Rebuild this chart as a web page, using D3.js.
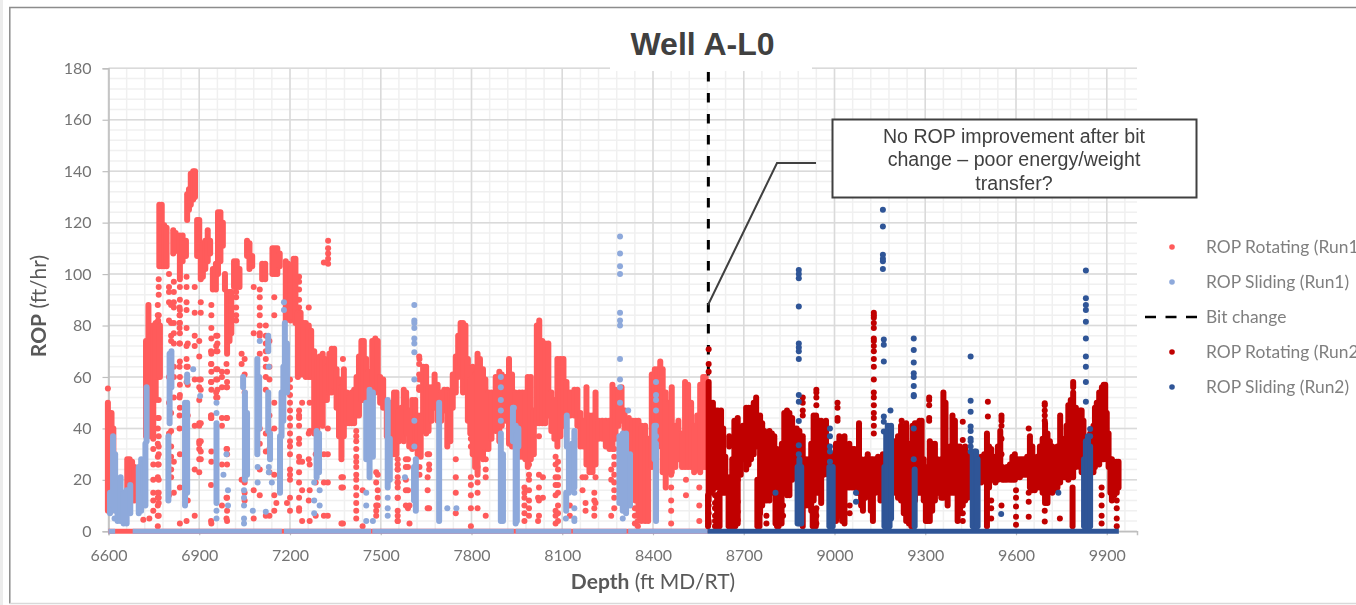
<!DOCTYPE html>
<html><head><meta charset="utf-8">
<script src="https://cdn.jsdelivr.net/npm/d3@7/dist/d3.min.js"></script>
<style>
html,body{margin:0;padding:0;background:#fff;overflow:hidden}
svg{display:block;filter:blur(0.35px)}
text{font-family:Lato,"Open Sans",sans-serif}
</style></head><body>
<svg id="c" width="1356" height="605"></svg>
<script>
// ---- categories / labels
const seriesNames = ["ROP Rotating (Run1)","ROP Sliding (Run1)","Bit change","ROP Rotating (Run2)","ROP Sliding (Run2)"];
const depthTicks = [6600,6900,7200,7500,7800,8100,8400,8700,9000,9300,9600,9900];
const ropTicks = [0,20,40,60,80,100,120,140,160,180];
const bitChangeDepth = 8583;
const noteLines = ["No ROP improvement after bit","change \u2013 poor energy/weight","transfer?"];

// ---- dense runs of readings: [depth, lowest ROP, highest ROP]
const rotRun1Bands = [[6598,8,50],[6604,8,46],[6610,8,46],[6616,10,40],[6662,14,28],[6670,13,28],[6678,12,27],[6686,12,25],[6692,15,24],
[6724,37,74],[6732,37,88],[6740,37,76],[6748,36,80],[6756,51,81],[6764,60,82],[6770,60,80],[6768,103,127],[6776,103,127],[6784,103,119],[6792,103,118],
[6814,108,117],[6822,109,116],[6836,98,115],[6845,105,115],[6856,107,113],[6860,121,131],[6866,125,133],[6872,127,139],[6880,129,140],[6886,130,140],
[6893,107,121],[6900,107,121],[6905,98,109],[6912,99,112],[6920,102,113],[6928,105,117],[6936,108,113],[6945,94,102],[6955,94,104],[6962,100,124],[6970,105,124],[6978,111,120],[6985,94,100],
[6992,69,93],[7000,74,93],[7006,77,93],[7015,95,105],[7024,95,105],[7033,95,102],[7058,107,113],[7066,102,112],[7075,103,107],[7108,98,104],[7118,98,104],
[7142,100,110],[7150,100,110],[7158,100,110],[7166,103,108],[7186,82,105],[7194,83,104],[7202,82,102],[7212,83,106],[7218,81,106],[7226,60,85],[7235,61,85],[7244,61,81],[7252,60,81],[7262,60,80],[7270,60,78],
[7280,38,70],[7290,38,67],[7298,42,68],[7308,41,69],[7316,51,67],[7322,51,64],[7330,54,69],[7338,54,71],[7346,56,71],[7354,48,63],[7362,37,59],[7370,29,56],[7378,37,63],[7388,42,54],[7396,42,52],[7404,42,54],[7412,42,55],[7420,45,60],[7428,45,68],[7436,51,74],[7444,51,74],[7452,54,67],[7460,50,62],[7472,51,74],[7482,54,75],[7490,56,74],[7498,50,60],[7508,48,59],
[7520,37,47],[7528,33,47],[7536,30,50],[7544,30,54],[7552,30,54],[7560,35,47],[7568,37,48],[7576,35,55],[7584,38,54],[7594,33,47],[7604,32,51],[7614,34,51],[7622,30,45],[7632,29,45],[7640,39,64],[7650,38,64],[7658,39,56],[7668,43,56],[7678,48,61],[7688,43,57],[7700,43,54],[7710,47,55],[7720,33,55],[7730,35,54],[7738,48,61],[7748,54,68],[7756,60,76],[7764,65,81],[7772,54,81],[7780,60,80],[7788,43,67],[7796,38,59],[7804,30,64],[7812,25,61],[7820,23,69],[7828,29,67],[7838,28,63],[7846,32,59],[7856,32,54],[7866,36,54],[7880,39,60],[7892,35,62],[7900,41,61],[7912,43,60],
[7924,34,67],[7934,33,61],[7944,41,54],[7958,29,54],[7968,29,54],[7978,28,54],[7986,25,60],[7996,28,60],[8006,30,47],[8016,42,80],[8024,42,82],[8034,42,74],[8044,42,73],[8054,45,73],[8064,39,54],[8074,36,51],[8084,33,67],[8094,37,67],[8104,41,67],[8114,46,58],[8126,45,54],[8140,45,55],[8150,41,55],[8160,33,46],[8170,33,43],[8180,26,56],[8190,23,45],[8200,23,45],[8210,26,54],[8220,36,43],[8232,36,43],[8244,33,43],[8256,32,43],[8266,32,57],[8276,36,55],[8286,41,55],[8296,43,56],[8306,38,47],[8320,30,44],
[8332,28,43],[8342,12,43],[8352,6,43],[8362,4,41],[8374,4,41],[8384,4,36],[8396,25,61],[8406,28,63],[8416,33,63],[8424,45,66],[8432,23,63],[8442,17,54],[8452,23,50],[8462,23,56],[8474,25,41],[8484,28,43],[8496,25,38],[8506,25,58],[8516,25,57],[8526,25,50],[8536,23,41],[8546,24,45],[8556,23,57],[8566,25,60],[8574,25,60]];

const slideRun1Bands = [[6605,7,15],[6615,10,37],[6622,8,30],[6630,4,20],[6640,4,21],[6650,3,15],[6660,3,16],[6672,7,18],[6700,7,25],[6708,8,28],[6716,15,26],[6722,10,34],[6726,35,56],
[6798,12,37],[6802,42,69],[6808,56,70],[6853,10,50],[6860,15,50],[6860,58,61],[6957,11,42],[7051,20,54],[7045,56,60],[7058,22,46],[7092,30,67],[7098,40,60],[7128,39,54],[7128,70,76],[7134,28,38],[7167,15,37],[7172,37,54],[7178,43,64],[7183,61,81],[7190,54,73],[7288,21,39],[7296,23,38],
[7452,28,50],[7463,21,55],[7474,29,54],[7523,17,51],[7530,20,36],[7610,12,25],[7616,8,28],[7693,4,50],[7897,4,38],[7904,4,30],[7937,35,48],[7946,3,41],[7950,4,38],[7955,33,40],[8113,8,15],[8115,33,45],[8122,15,33],[8132,16,34],[8140,17,39],[8289,11,37],[8300,8,38],[8311,7,38],[8324,10,30],[8405,28,41],[8410,4,33]];

const rotRun2Bands = [[8582,2,14],[8584,12,58],[8590,15,50],[8598,16,50],[8606,17,47],[8612,2,14],[8614,17,47],[8620,2,15],[8625,15,47],[8632,15,40],[8639,15,29],[8650,2,14],[8652,13,21],[8652,33,37],[8660,2,16],[8662,15,28],[8669,22,43],[8672,2,15],[8680,3,20],[8680,20,44],[8690,22,38],[8697,28,41],[8708,24,48],[8716,26,48],[8724,28,48],[8733,30,50],[8741,33,52],[8745,2,20],[8752,2,18],[8754,7,45],[8761,10,42],[8768,12,39],[8776,12,38],[8785,12,39],[8793,15,38],[8801,20,37],[8805,3,26],[8810,12,32],[8815,2,26],[8818,12,29],[8825,3,20],[8826,15,34],[8834,15,46],[8843,14,47],[8851,14,46],[8860,20,44],[8867,22,40],[8875,25,40],[8884,28,39],[8895,2,37],[8905,10,28],[8915,10,28],[8923,8,34],[8928,2,8],[8931,12,45],[8938,2,8],[8939,15,45],[8947,15,43],[8956,11,43],[8964,22,42],[8972,25,43],[8980,22,33],[8989,7,28],[8998,20,30],[9005,4,34],[9016,6,37],[9025,4,36],[9033,3,37],[9041,17,33],[9049,17,34],[9058,17,32],[9066,17,32],[9074,15,30],[9081,15,42],[9088,10,28],[9094,8,24],[9102,13,28],[9110,15,30],[9120,8,28],[9127,4,28],[9136,15,28],[9144,17,29],[9152,12,28],[9160,15,30],[9180,10,38],[9200,15,35],[9210,13,37],[9220,12,41],[9229,7,37],[9237,4,42],[9246,3,34],[9254,2,28],
[9258,10,41],[9266,12,42],[9274,15,42],[9281,15,43],[9288,15,43],[9295,12,28],[9302,4,23],[9308,4,25],[9315,4,35],[9323,8,34],[9332,12,34],[9340,15,28],[9346,15,25],[9353,13,28],[9360,13,54],[9367,15,50],[9374,10,32],[9382,15,33],[9390,15,45],[9398,15,43],[9407,4,33],[9415,7,33],[9424,10,32],[9432,12,33],[9440,13,30],[9448,15,28],[9485,19,29],[9495,20,30],[9504,2,38],[9511,17,33],[9518,20,32],[9525,20,29],[9532,19,29],[9540,20,33],[9548,21,39],[9555,20,25],[9562,20,24],[9570,20,25],[9580,20,26],[9588,20,29],[9596,20,30],[9604,21,28],[9613,21,28],[9621,22,28],[9629,22,28],[9637,22,29],[9646,17,37],[9654,16,33],[9662,16,28],[9670,17,29],[9679,17,33],[9688,15,36],[9696,11,42],[9704,11,38],[9712,17,35],[9720,15,33],[9729,16,32],[9737,17,33],[9746,19,45],[9753,21,36],[9760,21,30],[9767,21,41],[9773,20,49],[9781,21,51],[9787,2,17],[9789,21,54],[9789,56,58],[9798,25,48],[9806,28,42],[9812,25,47],[9817,23,47],[9823,28,43],[9845,28,38],[9856,23,41],[9861,25,48],[9867,28,50],[9875,26,54],[9884,28,56],[9890,28,57],[9895,29,57],[9900,28,46],[9906,25,38],[9912,15,28],[9917,12,28],[9925,14,27],[9933,15,27],[9939,17,27]];

const slideRun2Bands = [[8878,3,25],[8884,3,28],[8890,3,25],[8983,2,25],[8994,2,25],[9165,2,25],[9171,2,38],[9176,2,41],[9182,2,40],[9187,5,41],[9265,2,24],[9457,2,30],[9463,2,31],[9468,2,31],[9473,2,28],[9825,2,28],[9831,2,35],[9838,2,37],[9845,2,33]];

// ---- readings at 0 ROP: [from depth, to depth]
const slideRun1Zero = [[6600,6622],[6680,7173],[7180,7468],[7472,7940],[7946,8130],[8135,8313],[8318,8580]];
const rotRun1Zero = [[6600,8580]];
const slideRun2Zero = [[8580,9940]];

// ---- scattered readings: [depth, [ROP, ...]]
const rotRun1Dots = [[6598,[55.5]],[6715,[4.5]],[6735,[5]],[6748,[32,26,20,15,12,8]],[6766,[98,95,92,84,51,44,37,33,30,26,20,15,13,11,6]],
[6763,[88,84,81,44,40,34,29,26,21,15,13,10,6,2]],[6807,[76,74,81,88,46,39,33,29,24,21]],[6835,[87,84,81,79,73,64,52,45,40]],[6862,[73,64,57,45,12]],[6900,[74,68,59,56,51,42,41,35,34,32,28,23]],[6939,[70,65,58,45,44,18,4]],[6956,[76,72,70,63,59,54,52]],[6992,[62,58,56,44,32,30,26,13,8,4]],[7050,[67,61,54,19,15,12]],[7100,[77,69,24,14]],[7132,[74,64,59,45,39,32,23,6]],[7190,[11]],[7230,[47,45,41,36,34,29,23,19,13,9,8]],[7265,[50,39,26,16,4]],[7325,[40,30,19,6]],[7375,[67,21,17,3]],[7485,[23,19,10,8,6]],[7556,[26,24,19,17,13,8,4]],[7590,[28,25,16,9]],[7628,[67,59,55,25,22]],[7660,[30,26,24,9]],
[7990,[26,22,12,6]],[8023,[37,22,17,12,6]],[8078,[29,26,21,18,14,8,6,3]],[8167,[21,16]],[8210,[21,11]],[8340,[9,6,3]],
[6800,[100,95,93,89,82,60,50,38,27,14]],[6816,[97,93,89,87,81,77,73,64,60,52,27,15]],[6836,[95,90,86,84,81,77,73,66,60,57,53,48,30,17,3]],[6858,[99,95,89,86,79,72,67,64,58,44,4]],[6885,[95,85,76,72,59,41,24,6]],[6905,[89,85,59,55,42,35,31,28]],[6940,[88,84,79,75,69,65,62,58,55,45,44,31,27,3]],[6960,[76,73,70,63,59,55,52]],[6975,[62,60,56,44,41,26,10]],[6990,[65,56,44,32,13,5]],
[7022,[93,91,87,84,82]],[7040,[69,65,20]],[7080,[95,77,16,5]],[7100,[94,91,87,84,80,76,40,34]],[7120,[80,76,73,70,67,64,60,55,38,31,6]],[7148,[91,84,50,40,22,14,8]],[7155,[11]],
[7200,[59,56,53,50,47,44,41,38,35,33,30,24,22,20,13,8]],[7230,[99,97,94,90,87,44,27]],[7240,[50,27,16,4]],[7262,[87,38,28,12]],[7285,[30,19,6]],[7326,[113,110,108,106,104]],[7312,[104.5,30,19,6]],
[7370,[28,21,17,3]],[7419,[39,37,35,32,29,27,25,22,20,17,14,11,8,5]],[7440,[16,2]],[7490,[22,16,13,10]],[7556,[28,24,21,19,13,6,4]],[7583,[28,25,20,16,10]],[7595,[10,3]],[7627,[68,65,61,56,55]],[7655,[30,21,16,9]],[7748,[28,21,15,7]],[7798,[40,36,33,21,18,14,9,2]],[7820,[25,22,19,15,9]],[7847,[28,24,21,6]],
[7975,[17,15,13,10,7,4]],[7990,[20,16,9]],[8036,[21,13]],[8020,[13,4]],[8086,[27,24,21,18,15,10,7,4]],[8125,[10,6]],[8177,[21,11,8]],[8206,[15,12,9,6]],[8262,[24,20,6]],[8272,[32,29,26,22,19,16,13,9]],[8350,[4,2]],[8460,[22,17,12,8,3]],[8509,[20,14]],[8553,[17,10,4]]];

const slideRun1Dots = [[6620,[5]],[6880,[63]],[6903,[52.6]],[6957,[50,46,8,5]],[6990,[30]],[6980,[22]],[6995,[16,10]],[7048,[16,13,10,5,3]],[7077,[8]],[7093,[25,19]],[7120,[7.6]],[7100,[74]],[7130,[64,25,23]],[7140,[19]],[7180,[89,86]],[7280,[19,12,7]],[7298,[16,10]],
[7452,[15,10,4]],[7474,[4]],[7523,[13,9,6]],[7580,[21]],[7611,[88,82,81,79,75,73,69.6,59,43,33]],[7720,[9]],[7750,[9]],[7897,[60,56,51,47,43]],[7940,[48]],[8112,[5]],[8140,[15,9,5,4]],[8291,[114.6,108,103,100,85,82,80,67,59,56,50]],[8318,[47]],[8300,[5]],[8410,[58,53,51,47,41,37,34]]];

const rotRun2Dots = [[8584,[70.8,65,62,10,7,4,3]],[8605,[14,11,9,6,4,2]],[8615,[14,10,7,4,2]],[8652,[11,8,5,3]],[8666,[12,9,6,4,2]],[8680,[11.5,7.6,4.4]],[8750,[6,3]],[8775,[6,3]],[8810,[13,10,7,4,2]],[8830,[10,6]],[8895,[52,50,47,45]],[8940,[55,54,52,49,44,9,6,3]],[8985,[6,3]],[9010,[50,48,44,43]],[9050,[10,7]],
[9130,[85,84,83,81,79,75,74,72,70,67,64,59,54,52,49,46,44,41,38]],[9222,[41,43]],[9313,[52,51,49,44,43]],[9424,[42.6,35.5,7,4]],[9507,[50.4,44.6]],[9518,[12,9,5]],[9552,[45,44,43,41,36,30,10]],[9600,[16,13,9.6,5.7,2.5]],[9642,[40,15,11.5,5.7]],[9695,[49.8,49,47,45,43,8,3.8]],[9745,[5]],[9883,[17,14,10,6,3]],[9933,[12,9,5,2]]];

const slideRun2Dots = [[8882,[101.6,100,98.4,87.4,73,71.5,70,67,53,50.4,42.9,33.5,30]],[8805,[15]],[8985,[40,37,33,31,27]],[9071,[15,11.5]],[9160,[125,118.5,107.5,106,105,102]],[9163,[74.6,72.5,66,44.6,42.6,38.8]],[9185,[47]],[9262,[75,70.5,65.6,61.4,60,56.5,53,52.5,40,28]],[9450,[68,50.8,46.5,40.7,39,36,35,33,31]],[9551,[6.7]],[9740,[15]],[9831,[101.4,90.6,88,86,81.5,75,68,64,58,50.4]],[9845,[39.8,37]]];

// ---- scales
const W = 1356, H = 605;
const x = d3.scaleLinear().domain([6600,10000]).range([108.5,1137]);
const y = d3.scaleLinear().domain([0,180]).range([531.3,68.3]);
const svg = d3.select("#c");
const colors = {rot1:"#ff5b5b", sli1:"#8ea9db", bit:"#000", rot2:"#c00000", sli2:"#2f5597"};
const R = 3;

// ---- slide frame
svg.append("rect").attr("x",0).attr("y",0).attr("width",3).attr("height",H).attr("fill","#ececec");
svg.append("path").attr("d",`M${W},7.5H9.8V603.5`).attr("fill","none").attr("stroke","#8c8c8c").attr("stroke-width",1.5);
svg.append("path").attr("d",`M9.8,603.5H${W}`).attr("fill","none").attr("stroke","#d9d9d9").attr("stroke-width",1.5);

// ---- grid
const g = svg.append("g");
g.selectAll(".mx").data(d3.range(6600,10001,60)).join("line").attr("x1",d=>x(d)).attr("x2",d=>x(d)).attr("y1",y(180)).attr("y2",y(0)).attr("stroke","#f0f0f0").attr("stroke-width",1.5);
g.selectAll(".my").data(d3.range(0,181,4)).join("line").attr("x1",x(6600)).attr("x2",x(10000)).attr("y1",d=>y(d)).attr("y2",d=>y(d)).attr("stroke","#f0f0f0").attr("stroke-width",1.5);
g.selectAll(".Mx").data(depthTicks).join("line").attr("x1",d=>x(d)).attr("x2",d=>x(d)).attr("y1",y(180)).attr("y2",y(0)).attr("stroke","#dadada").attr("stroke-width",1.5);
g.selectAll(".My").data(ropTicks).join("line").attr("x1",x(6600)).attr("x2",x(10000)).attr("y1",d=>y(d)).attr("y2",d=>y(d)).attr("stroke","#dadada").attr("stroke-width",1.5);

// ---- axes
const axL = svg.append("g").attr("transform",`translate(${x(6600)},0)`).call(d3.axisLeft(y).tickValues(ropTicks).tickSize(6));
const axB = svg.append("g").attr("transform",`translate(0,${y(0)})`).call(d3.axisBottom(x).tickValues(depthTicks).tickFormat(d3.format("d")).tickSize(4));
[axL,axB].forEach(a=>{a.selectAll("path").attr("stroke","#bfbfbf").attr("stroke-width",1.5);a.selectAll("line").attr("stroke","#bfbfbf").attr("stroke-width",1.2);
  a.selectAll("text").attr("fill","#747474").style("font-size","16px").style("font-family","Lato");});
axL.selectAll("text").attr("x",-17);
axB.selectAll("text").attr("y",18);

// ---- marks
function bands(data,c){svg.append("g").selectAll("line").data(data).join("line")
  .attr("x1",d=>x(d[0])).attr("x2",d=>x(d[0])).attr("y1",d=>y(d[1])).attr("y2",d=>y(d[2]))
  .attr("stroke",c).attr("stroke-width",R*2).attr("stroke-linecap","round");}
function dots(data,c){svg.append("g").selectAll("circle").data(data.flatMap(([d,vs])=>vs.map(v=>[d,v]))).join("circle")
  .attr("cx",d=>x(d[0])).attr("cy",d=>y(d[1])).attr("r",R).attr("fill",c);}
function zero(data,c){svg.append("g").selectAll("line").data(data).join("line")
  .attr("x1",d=>x(d[0])).attr("x2",d=>x(d[1])).attr("y1",y(0)).attr("y2",y(0)).attr("stroke",c).attr("stroke-width",5);}

zero(rotRun1Zero,colors.rot1); dots(rotRun1Dots,colors.rot1); bands(rotRun1Bands,colors.rot1);
zero(slideRun1Zero,colors.sli1); dots(slideRun1Dots,colors.sli1); bands(slideRun1Bands,colors.sli1);
svg.append("line").attr("x1",x(bitChangeDepth)).attr("x2",x(bitChangeDepth)).attr("y1",72).attr("y2",y(0)).attr("stroke","#000").attr("stroke-width",3).attr("stroke-dasharray","9.5 11.5");
dots(rotRun2Dots,colors.rot2); bands(rotRun2Bands,colors.rot2);
zero(slideRun2Zero,colors.sli2); dots(slideRun2Dots,colors.sli2); bands(slideRun2Bands,colors.sli2);

// ---- title
svg.append("rect").attr("x",610).attr("y",20).attr("width",202).attr("height",51).attr("fill","#fff");
svg.append("text").attr("x",702.5).attr("y",55).attr("text-anchor","middle").attr("fill","#404040").style("font-family","'Liberation Sans'").style("font-weight",700).style("font-size","32px").text("Well A-L0");

// ---- axis titles
const yt = svg.append("text").attr("transform","translate(46,306) rotate(-90)").attr("text-anchor","middle").attr("fill","#595959").style("font-size","21px");
yt.append("tspan").style("font-weight",700).text("ROP"); yt.append("tspan").text(" (ft/hr)");
const xt = svg.append("text").attr("x",653).attr("y",589).attr("text-anchor","middle").attr("fill","#595959").style("font-size","21px");
xt.append("tspan").style("font-weight",700).text("Depth"); xt.append("tspan").text(" (ft MD/RT)");

// ---- legend
const legY = [247,282,317,352,387], legC = [colors.rot1,colors.sli1,colors.bit,colors.rot2,colors.sli2];
const leg = svg.append("g");
seriesNames.forEach((n,i)=>{
  if(i===2) leg.append("line").attr("x1",1145).attr("x2",1199).attr("y1",legY[i]).attr("y2",legY[i]).attr("stroke","#000").attr("stroke-width",2.5).attr("stroke-dasharray","11 9.5");
  else leg.append("circle").attr("cx",1172).attr("cy",legY[i]).attr("r",2.8).attr("fill",legC[i]);
  leg.append("text").attr("x",1206).attr("y",legY[i]+5.5).attr("fill","#7f7f7f").style("font-size","17.4px").text(n);
});

// ---- annotation
svg.append("path").attr("d","M816,163H777L708,305").attr("fill","none").attr("stroke","#404040").attr("stroke-width",2);
svg.append("rect").attr("x",832.5).attr("y",119.5).attr("width",364).attr("height",78).attr("fill","#fff").attr("stroke","#404040").attr("stroke-width",2);
noteLines.forEach((t,i)=>svg.append("text").attr("x",1014).attr("y",142.5+i*23.5).attr("text-anchor","middle").attr("fill","#404040").style("font-family","'Liberation Sans'").style("font-size","19.6px").text(t));
</script>
</body></html>
